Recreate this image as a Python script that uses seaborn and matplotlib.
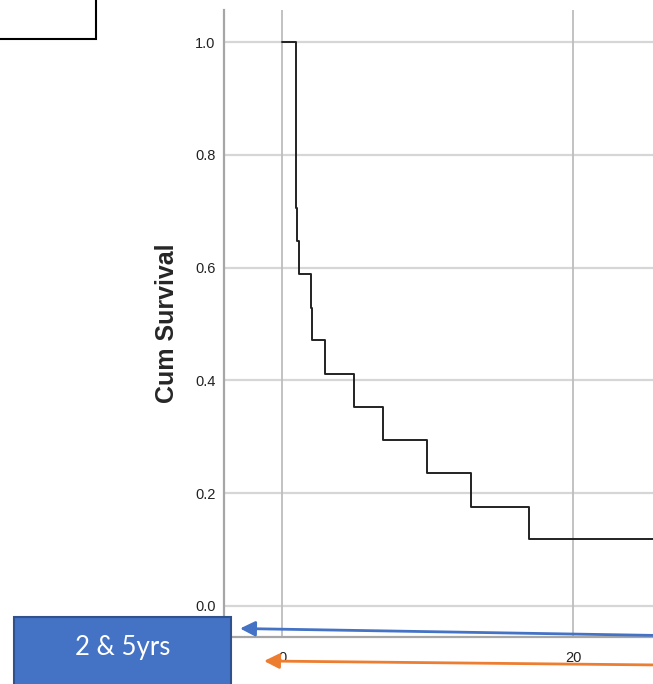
import matplotlib
matplotlib.use("Agg")
import matplotlib.pyplot as plt
from matplotlib.patches import Rectangle, FancyArrowPatch
import seaborn as sns
import pandas as pd

# Kaplan-Meier estimate (time in years, cumulative survival)
times = [0, 0.93, 0.96, 0.98, 1.0, 1.15, 1.97, 2.06, 2.97, 4.97, 6.96, 9.99, 12.99, 17.0, 30.0]
survival = [1.0, 0.824, 0.765, 0.706, 0.647, 0.588, 0.529, 0.471, 0.412, 0.353,
            0.294, 0.235, 0.176, 0.118, 0.118]
y_ticks = [0.0, 0.2, 0.4, 0.6, 0.8, 1.0]
x_ticks = [0, 20]
box_label = "2 & 5yrs"
y_label = "Cum Survival"

df = pd.DataFrame({"time": times, "survival": survival})

sns.set_theme(style="white")
plt.rcParams["font.family"] = ["Liberation Sans", "DejaVu Sans"]

W, H = 653, 684
fig = plt.figure(figsize=(W / 100, H / 100), dpi=100)

def fx(px):
    return px / W

def fy(py):
    return 1 - py / H

ax = fig.add_axes([fx(224), fy(637), fx(653) - fx(224), fy(10) - fy(637)])
sns.lineplot(data=df, x="time", y="survival", ax=ax, estimator=None, sort=False,
             drawstyle="steps-post", color="#222222", linewidth=1.4, zorder=3)

ax.set_xlim(-3.99, 25.5)
ax.set_ylim(-0.055, 1.057)
ax.set_yticks(y_ticks)
ax.set_yticklabels([f"{v:.1f}" for v in y_ticks])
ax.set_xticks(x_ticks)
ax.set_xticklabels([str(v) for v in x_ticks])
ax.tick_params(axis="both", length=0, labelsize=10.5, colors="#222222")
ax.tick_params(axis="y", pad=6)
ax.tick_params(axis="x", pad=10)

for y in y_ticks:
    ax.axhline(y, color="#d6d6d6", linewidth=1.6, zorder=1)
for x in x_ticks:
    ax.axvline(x, color="#bdbdbd", linewidth=1.3, zorder=1)

for s in ["top", "right"]:
    ax.spines[s].set_visible(False)
for s in ["left", "bottom"]:
    ax.spines[s].set_color("#a6a6a6")
    ax.spines[s].set_linewidth(1.6)

ax.set_xlabel("")
ax.set_ylabel(y_label, fontsize=18, fontweight="bold", labelpad=12)

# top-left box (cropped)
fig.add_artist(Rectangle((fx(-10), fy(39)), fx(96) - fx(-10), fy(-10) - fy(39),
                         transform=fig.transFigure, facecolor="white",
                         edgecolor="black", linewidth=1.5, zorder=5))

# blue label box
fig.add_artist(Rectangle((fx(14), fy(700)), fx(231) - fx(14), fy(617) - fy(700),
                         transform=fig.transFigure, facecolor="#4472C4",
                         edgecolor="#2F528F", linewidth=1.5, zorder=5))
fig.text(fx(123), fy(648), box_label, color="white", fontsize=18.5,
         family=["Lato", "DejaVu Sans"], ha="center", va="center", zorder=6)

# arrows
fig.add_artist(FancyArrowPatch((fx(660), fy(635.5)), (fx(240), fy(628.5)),
                               transform=fig.transFigure, color="#4472C4",
                               linewidth=2.0, arrowstyle="-|>,head_length=9,head_width=4.5",
                               shrinkA=0, shrinkB=0, zorder=6))
fig.add_artist(FancyArrowPatch((fx(660), fy(665)), (fx(264), fy(661)),
                               transform=fig.transFigure, color="#ED7D31",
                               linewidth=2.0, arrowstyle="-|>,head_length=9,head_width=4.5",
                               shrinkA=0, shrinkB=0, zorder=6))

fig.savefig("out.png", dpi=100)
